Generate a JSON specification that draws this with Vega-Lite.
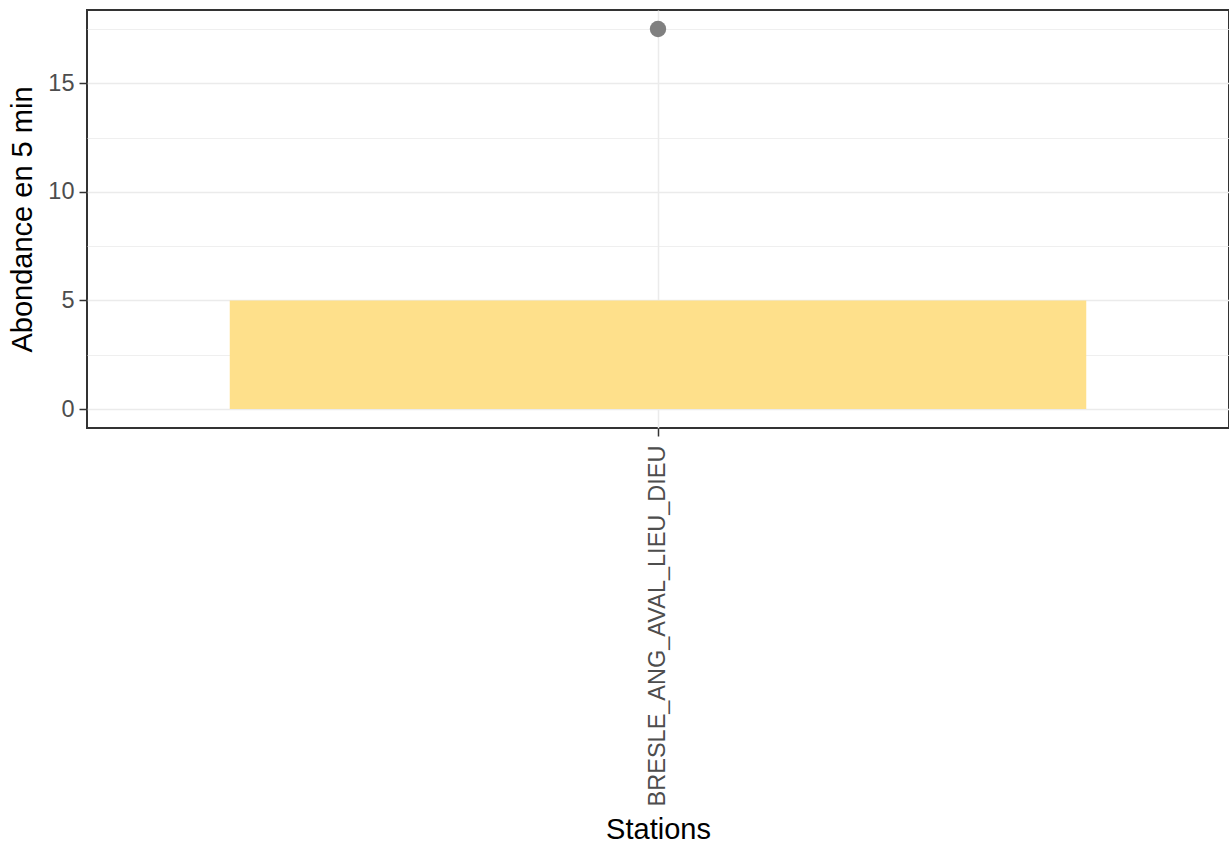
{
  "$schema": "https://vega.github.io/schema/vega-lite/v6.json",
  "width": 1142,
  "height": 418,
  "autosize": {"type": "none"},
  "padding": {"left": 87, "top": 10, "right": 0, "bottom": 417},
  "background": "white",
  "config": {
    "font": "Liberation Sans",
    "view": {"stroke": "#333333", "strokeWidth": 2},
    "axis": {
      "domain": false,
      "gridColor": "#EBEBEB",
      "gridWidth": 1.5,
      "tickColor": "#333333",
      "tickSize": 8,
      "tickWidth": 1.5,
      "labelColor": "#4D4D4D",
      "labelFontSize": 23.5,
      "labelLimit": 0,
      "labelFont": "Liberation Sans",
      "titleFont": "Liberation Sans",
      "titleFontSize": 29,
      "titleFontWeight": "normal",
      "titleColor": "black"
    }
  },
  "data": {"values": [{"station": "BRESLE_ANG_AVAL_LIEU_DIEU", "abondance": 5, "outlier": 17.5}]},
  "encoding": {
    "x": {
      "field": "station",
      "type": "nominal",
      "title": "Stations",
      "scale": {"paddingInner": 0.25, "paddingOuter": 0.125},
      "axis": {
        "grid": true,
        "bandPosition": 0.5,
        "labelAngle": 270,
        "labelAlign": "right",
        "labelBaseline": "middle",
        "labelPadding": 9,
        "labelLimit": 0,
        "titleBaseline": "alphabetic",
        "titleY": 410
      }
    }
  },
  "resolve": {"axis": {"y": "independent"}},
  "layer": [
    {
      "mark": {"type": "point", "filled": true, "color": "#808080", "opacity": 0, "size": 1},
      "encoding": {
        "y": {
          "field": "outlier",
          "type": "quantitative",
          "scale": {"domain": [-0.875, 18.375], "nice": false, "zero": false},
          "axis": {
            "orient": "left",
            "values": [2.5, 7.5, 12.5, 17.5],
            "grid": true,
            "gridWidth": 0.8,
            "ticks": false,
            "labels": false,
            "title": null
          }
        }
      }
    },
    {
      "mark": {"type": "bar", "color": "#FEE08B"},
      "encoding": {
        "y": {
          "field": "abondance",
          "type": "quantitative",
          "title": "Abondance en 5 min",
          "scale": {"domain": [-0.875, 18.375], "nice": false, "zero": false},
          "axis": {
            "orient": "left",
            "values": [0, 5, 10, 15],
            "grid": true,
            "labelPadding": 5,
            "titlePadding": 10
          }
        }
      }
    },
    {
      "mark": {"type": "point", "filled": true, "color": "#808080", "opacity": 1, "size": 270},
      "encoding": {
        "y": {
          "field": "outlier",
          "type": "quantitative",
          "axis": null
        }
      }
    }
  ]
}
